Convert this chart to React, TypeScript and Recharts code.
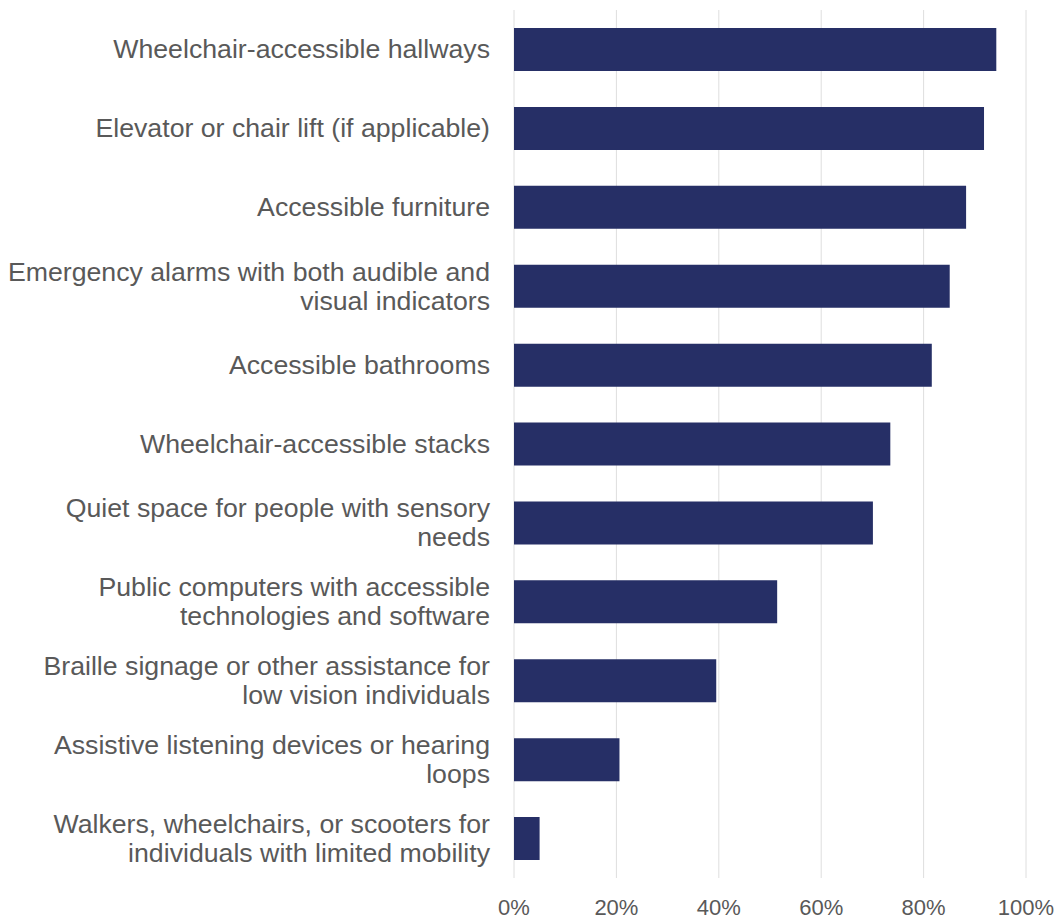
import React from "react";
import { BarChart, Bar, XAxis, YAxis, CartesianGrid } from "recharts";

const categories: string[] = [
  "Wheelchair-accessible hallways",
  "Elevator or chair lift (if applicable)",
  "Accessible furniture",
  "Emergency alarms with both audible and\nvisual indicators",
  "Accessible bathrooms",
  "Wheelchair-accessible stacks",
  "Quiet space for people with sensory\nneeds",
  "Public computers with accessible\ntechnologies and software",
  "Braille signage or other assistance for\nlow vision individuals",
  "Assistive listening devices or hearing\nloops",
  "Walkers, wheelchairs, or scooters for\nindividuals with limited mobility",
];

const values: number[] = [94.2, 91.8, 88.3, 85.1, 81.6, 73.5, 70.1, 51.4, 39.5, 20.6, 5.0];

const xTicks: number[] = [0, 20, 40, 60, 80, 100];

const data = categories.map((name, i) => ({ name, value: values[i] }));

const FONT = "'Liberation Sans', Arial, Helvetica, sans-serif";
const TEXT_COLOR = "#595959";

const YTick = (props: any) => {
  const { x, y, payload } = props;
  const lines: string[] = String(payload.value).split("\n");
  const lh = 29;
  const startDy = -((lines.length - 1) * lh) / 2;
  return (
    <text
      x={x}
      y={y}
      textAnchor="end"
      fill={TEXT_COLOR}
      fontSize={26.7}
      fontFamily={FONT}
    >
      {lines.map((l, i) => (
        <tspan key={i} x={x} dy={i === 0 ? startDy + 9 : lh}>
          {l}
        </tspan>
      ))}
    </text>
  );
};

export default function App() {
  return (
    <div style={{ position: "absolute", left: 0, top: 0, width: 1059, height: 921, background: "#fff" }}>
      <BarChart
        width={1059}
        height={921}
        data={data}
        layout="vertical"
        margin={{ top: 10, right: 33, bottom: 0, left: 0 }}
      >
        <CartesianGrid horizontal={false} stroke="#dedede" strokeWidth={1} />
        <XAxis
          type="number"
          domain={[0, 100]}
          ticks={xTicks}
          tickFormatter={(v: number) => `${v}%`}
          axisLine={false}
          tickLine={false}
          tickSize={0}
          tickMargin={21}
          height={43}
          interval={0}
          tick={{ fill: TEXT_COLOR, fontSize: 22, fontFamily: FONT }}
        />
        <YAxis
          type="category"
          dataKey="name"
          width={514}
          axisLine={false}
          tickLine={false}
          tickSize={0}
          tickMargin={24}
          interval={0}
          tick={<YTick />}
        />
        <Bar dataKey="value" fill="#262f66" barSize={43} isAnimationActive={false} />
      </BarChart>
    </div>
  );
}
